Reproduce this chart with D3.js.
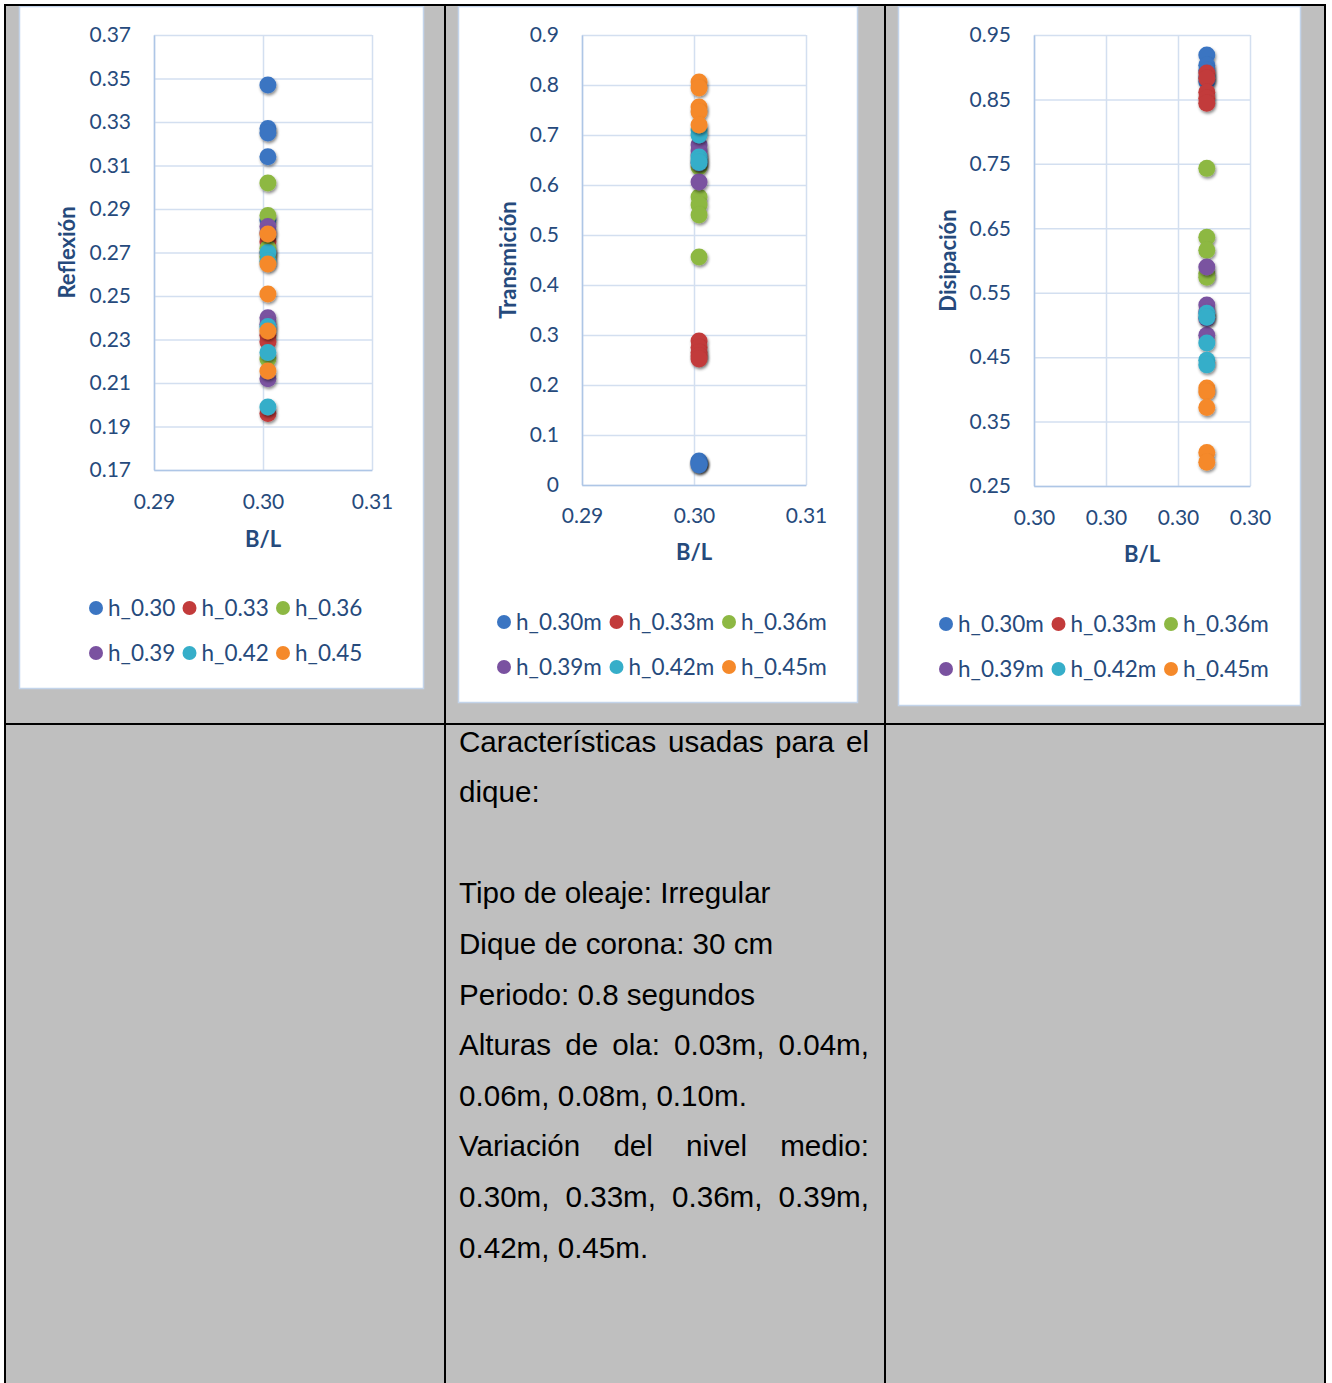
<!DOCTYPE html>
<html><head><meta charset="utf-8">
<script src="https://cdn.jsdelivr.net/npm/d3@7"></script>
<style>body{margin:0;background:#fff;} svg{display:block}</style>
</head><body><svg id="c" width="1332" height="1383"></svg>
<script>
// ---------- DATA ----------
const seriesColors = ["#3b75c2", "#c23b3b", "#8db843", "#7a52a0", "#36aec9", "#f5892a"];
const reflLegend = ["h_0.30", "h_0.33", "h_0.36", "h_0.39", "h_0.42", "h_0.45"];
const transLegend = ["h_0.30m", "h_0.33m", "h_0.36m", "h_0.39m", "h_0.42m", "h_0.45m"];
const disLegend = ["h_0.30m", "h_0.33m", "h_0.36m", "h_0.39m", "h_0.42m", "h_0.45m"];

const blValue = 0.30045;      // B/L of every test (charts 1 and 2)
const blValueDis = 0.30044;   // B/L on the dissipation chart axis

const reflexion = [
  [0.347, 0.327, 0.325, 0.314, 0.285],
  [0.275, 0.270, 0.232, 0.229, 0.196],
  [0.302, 0.287, 0.272, 0.268, 0.221],
  [0.282, 0.279, 0.240, 0.237, 0.212],
  [0.270, 0.266, 0.236, 0.224, 0.199],
  [0.2785, 0.2647, 0.2509, 0.2339, 0.2155]
];
const transmision = [
  [0.048, 0.046, 0.044, 0.042, 0.040],
  [0.288, 0.275, 0.265, 0.258, 0.252],
  [0.636, 0.576, 0.560, 0.540, 0.456],
  [0.680, 0.668, 0.660, 0.644, 0.606],
  [0.710, 0.700, 0.656, 0.650, 0.645],
  [0.806, 0.794, 0.756, 0.746, 0.720]
];
const disipacion = [
  [0.919, 0.903, 0.895, 0.885, 0.878],
  [0.891, 0.883, 0.861, 0.852, 0.844],
  [0.743, 0.636, 0.616, 0.580, 0.574],
  [0.590, 0.531, 0.520, 0.510, 0.484],
  [0.518, 0.512, 0.472, 0.445, 0.438],
  [0.402, 0.396, 0.372, 0.302, 0.287]
];

const reflYTicks = [0.17, 0.19, 0.21, 0.23, 0.25, 0.27, 0.29, 0.31, 0.33, 0.35, 0.37];
const transYTicks = [0, 0.1, 0.2, 0.3, 0.4, 0.5, 0.6, 0.7, 0.8, 0.9];
const disYTicks = [0.25, 0.35, 0.45, 0.55, 0.65, 0.75, 0.85, 0.95];
const reflXTicks = [0.29, 0.30, 0.31];
const transXTicks = [0.29, 0.30, 0.31];
const disXTicks = [0.3002, 0.3003, 0.3004, 0.3005];

const bodyLines = [
  {text: "Características usadas para el", justify: true},
  {text: "dique:", justify: false},
  {text: "", justify: false},
  {text: "Tipo de oleaje: Irregular", justify: false},
  {text: "Dique de corona: 30 cm", justify: false},
  {text: "Periodo: 0.8 segundos", justify: false},
  {text: "Alturas de ola: 0.03m, 0.04m,", justify: true},
  {text: "0.06m, 0.08m, 0.10m.", justify: false},
  {text: "Variación del nivel medio:", justify: true},
  {text: "0.30m, 0.33m, 0.36m, 0.39m,", justify: true},
  {text: "0.42m, 0.45m.", justify: false}
];

// ---------- DRAW ----------
const svg = d3.select("#c");
const FONT = "Lato, 'Open Sans', sans-serif";
const TXT = "#264a7c";

const defs = svg.append("defs");
const f = defs.append("filter").attr("id", "sh").attr("x", "-50%").attr("y", "-50%").attr("width", "200%").attr("height", "200%");
f.append("feDropShadow").attr("dx", 1).attr("dy", 2).attr("stdDeviation", 1.6)
  .attr("flood-color", "#000").attr("flood-opacity", 0.45);

// table background
svg.append("rect").attr("x", 5).attr("y", 5).attr("width", 1320).attr("height", 1380).attr("fill", "#bfbfbf");

const charts = [
  {box: [19, 6, 404, 682], plot: {l: 154, r: 372, t: 35, b: 470},
   yDomain: [0.17, 0.37], yTicks: reflYTicks, yFmt: d3.format(".2f"),
   xDomain: [0.29, 0.31], xTicks: reflXTicks, xFmt: d3.format(".2f"),
   bl: blValue, data: reflexion, legend: reflLegend, yTitle: "Reflexión",
   yTitleX: 67, xTitleY: 539, xLabY: 502, leg: {x0: 96, dx: 93.5, y0: 608, dy: 45}},
  {box: [458, 6, 399, 696], plot: {l: 582, r: 806, t: 35, b: 485},
   yDomain: [0, 0.9], yTicks: transYTicks, yFmt: v => v === 0 ? "0" : d3.format(".1f")(v),
   xDomain: [0.29, 0.31], xTicks: transXTicks, xFmt: d3.format(".2f"),
   bl: blValue, data: transmision, legend: transLegend, yTitle: "Transmición",
   yTitleX: 508, xTitleY: 552, xLabY: 516, leg: {x0: 504, dx: 112.5, y0: 622, dy: 45}},
  {box: [898, 6, 402, 699], plot: {l: 1034, r: 1250, t: 35, b: 486},
   yDomain: [0.25, 0.95], yTicks: disYTicks, yFmt: d3.format(".2f"),
   xDomain: [0.3002, 0.3005], xTicks: disXTicks, xFmt: d3.format(".2f"),
   bl: blValueDis, data: disipacion, legend: disLegend, yTitle: "Disipación",
   yTitleX: 948, xTitleY: 554, xLabY: 518, leg: {x0: 946, dx: 112.5, y0: 624, dy: 45}}
];

charts.forEach(c => {
  const g = svg.append("g");
  g.append("rect").attr("x", c.box[0] + 0.5).attr("y", c.box[1] + 0.5)
    .attr("width", c.box[2]).attr("height", c.box[3])
    .attr("fill", "#fff").attr("stroke", "#c3d4ea").attr("stroke-width", 1.5);
  const p = c.plot;
  const x = d3.scaleLinear().domain(c.xDomain).range([p.l, p.r]);
  const y = d3.scaleLinear().domain(c.yDomain).range([p.b, p.t]);

  // gridlines
  const gy = d3.axisLeft(y).tickValues(c.yTicks).tickSize(-(p.r - p.l)).tickFormat("");
  const gx = d3.axisBottom(x).tickValues(c.xTicks).tickSize(-(p.b - p.t)).tickFormat("");
  g.append("g").attr("transform", `translate(${p.l},0)`).call(gy)
    .call(s => s.select(".domain").remove())
    .call(s => s.selectAll("line").attr("stroke", "#d3dff0").attr("stroke-width", 1.5));
  g.append("g").attr("transform", `translate(0,${p.b})`).call(gx)
    .call(s => s.select(".domain").remove())
    .call(s => s.selectAll("line").attr("stroke", "#d3dff0").attr("stroke-width", 1.5));

  // axes
  const ay = d3.axisLeft(y).tickValues(c.yTicks).tickSize(0).tickPadding(23).tickFormat(c.yFmt);
  const ax = d3.axisBottom(x).tickValues(c.xTicks).tickSize(0).tickPadding(0).tickFormat(c.xFmt);
  g.append("g").attr("transform", `translate(${p.l},0)`).call(ay)
    .call(s => s.select(".domain").attr("stroke", "#aec6e6").attr("stroke-width", 1.5))
    .call(s => s.selectAll("text").attr("font-family", FONT).attr("font-size", 21).attr("fill", TXT));
  g.append("g").attr("transform", `translate(0,${p.b})`).call(ax)
    .call(s => s.select(".domain").attr("stroke", "#aec6e6").attr("stroke-width", 1.5))
    .call(s => s.selectAll("text").attr("font-family", FONT).attr("font-size", 21).attr("fill", TXT)
      .attr("y", c.xLabY - p.b).attr("dy", "0.35em"));

  // titles
  g.append("text").attr("transform", `translate(${c.yTitleX},${(p.t + p.b) / 2}) rotate(-90)`)
    .attr("text-anchor", "middle").attr("dy", "0.35em")
    .attr("font-family", FONT).attr("font-weight", "bold").attr("font-size", 22).attr("fill", TXT)
    .text(c.yTitle);
  g.append("text").attr("x", (p.l + p.r) / 2).attr("y", c.xTitleY).attr("dy", "0.35em")
    .attr("text-anchor", "middle")
    .attr("font-family", FONT).attr("font-weight", "bold").attr("font-size", 22).attr("fill", TXT)
    .text("B/L");

  // points
  c.data.forEach((vals, si) => {
    g.append("g").selectAll("circle").data(vals).join("circle")
      .attr("cx", x(c.bl)).attr("cy", d => y(d)).attr("r", 8.5)
      .attr("fill", seriesColors[si]).attr("filter", "url(#sh)");
  });

  // legend
  c.legend.forEach((lab, i) => {
    const cx = c.leg.x0 + (i % 3) * c.leg.dx;
    const cy = c.leg.y0 + Math.floor(i / 3) * c.leg.dy;
    g.append("circle").attr("cx", cx).attr("cy", cy).attr("r", 7).attr("fill", seriesColors[i]);
    g.append("text").attr("x", cx + 12).attr("y", cy).attr("dy", "0.35em")
      .attr("font-family", FONT).attr("font-size", 22.5).attr("fill", TXT).text(lab);
  });
});

// body text (bottom middle cell)
const tg = svg.append("g").attr("font-family", "'Liberation Sans', Arial, sans-serif")
  .attr("font-size", 29.6).attr("fill", "#000");
const tx0 = 459, tx1 = 869, ty0 = 751.5, tdy = 50.6;
bodyLines.forEach((ln, i) => {
  const yy = ty0 + i * tdy;
  if (!ln.text) return;
  if (!ln.justify) {
    tg.append("text").attr("x", tx0).attr("y", yy).text(ln.text);
    return;
  }
  const words = ln.text.split(" ");
  const nodes = words.map(w => tg.append("text").attr("y", yy).text(w));
  const widths = nodes.map(n => n.node().getComputedTextLength());
  const total = d3.sum(widths);
  const gap = (tx1 - tx0 - total) / (words.length - 1);
  let cx = tx0;
  nodes.forEach((n, k) => { n.attr("x", cx); cx += widths[k] + gap; });
});

// table borders
const bl = svg.append("g").attr("stroke", "#000").attr("stroke-width", 2);
[5, 445, 885, 1325].forEach(xx => bl.append("line").attr("x1", xx).attr("x2", xx).attr("y1", 4).attr("y2", 1383));
[5, 724].forEach(yy => bl.append("line").attr("x1", 4).attr("x2", 1326).attr("y1", yy).attr("y2", yy));
</script></body></html>
